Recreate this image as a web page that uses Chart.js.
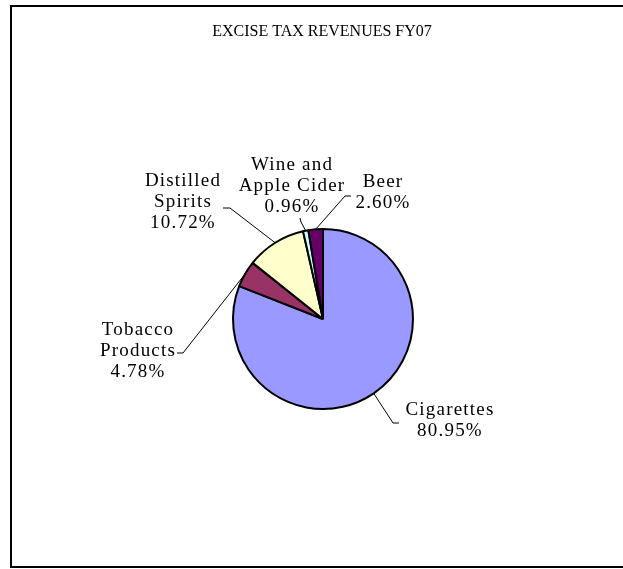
<!DOCTYPE html>
<html>
<head>
<meta charset="utf-8">
<script src="https://cdn.jsdelivr.net/npm/chart.js@4"></script>
<style>
html,body{margin:0;padding:0;background:#fff;}
#wrap{width:623px;height:569px;position:relative;}
</style>
</head>
<body>
<div id="wrap"><canvas id="c" width="623" height="569"></canvas></div>
<script>
// ---- data ----
const chartTitle = "EXCISE TAX REVENUES FY07";
const categories = ["Cigarettes", "Tobacco Products", "Distilled Spirits", "Wine and Apple Cider", "Beer"];
const labelLines = [["Cigarettes"], ["Tobacco", "Products"], ["Distilled", "Spirits"], ["Wine and", "Apple Cider"], ["Beer"]];
const values = [80.95, 4.78, 10.72, 0.96, 2.60];

// ---- style ----
const colors = ["#9999FF", "#993366", "#FFFFCC", "#CCFFFF", "#660066"];
// label block (first line centre) and leader points, relative to pie centre
const labelStyle = [
  {lx: 127, ly: 91, leader: [[70, 104], [76, 104]]},
  {lx: -185, ly: 11, leader: [[-140, 34], [-146, 34]]},
  {lx: -140, ly: -138, leader: [[-93, -111], [-100, -111]]},
  {lx: -31, ly: -154, leader: [[-22, -97], [-23, -101]]},
  {lx: 60, ly: -137, leader: [[22, -123], [28, -123]]}
];
const FONT = "'Liberation Serif', 'Times New Roman', serif";

const overlay = {
  id: 'overlay',
  afterDatasetsDraw(chart) {
    const ctx = chart.ctx;
    const meta = chart.getDatasetMeta(0);
    ctx.save();
    // frame
    ctx.strokeStyle = '#000';
    ctx.lineWidth = 2;
    ctx.strokeRect(11, 6, 640, 561);
    // title
    ctx.fillStyle = '#000';
    ctx.font = "16px " + FONT;
    ctx.textAlign = 'center';
    ctx.textBaseline = 'middle';
    ctx.fillText(chartTitle, 322, 32);
    ctx.font = "19px " + FONT;
    ctx.letterSpacing = "1.2px";
    meta.data.forEach((arc, i) => {
      const p = arc.getProps(['x', 'y', 'startAngle', 'endAngle', 'outerRadius'], true);
      const mid = (p.startAngle + p.endAngle) / 2;
      const ex = p.x + p.outerRadius * Math.cos(mid);
      const ey = p.y + p.outerRadius * Math.sin(mid);
      const st = labelStyle[i];
      ctx.beginPath();
      ctx.strokeStyle = '#000';
      ctx.lineWidth = 1;
      ctx.moveTo(ex, ey);
      st.leader.forEach(pt => ctx.lineTo(p.x + pt[0], p.y + pt[1]));
      ctx.stroke();
      const lines = labelLines[i].concat([values[i].toFixed(2) + "%"]);
      lines.forEach((t, k) => {
        ctx.fillText(t, p.x + st.lx, p.y + st.ly + k * 21);
      });
    });
    ctx.restore();
  }
};

new Chart(document.getElementById('c'), {
  type: 'pie',
  data: {
    labels: categories,
    datasets: [{
      data: values,
      backgroundColor: colors,
      borderColor: '#000',
      borderWidth: 2,
      radius: 90
    }]
  },
  options: {
    responsive: false,
    animation: false,
    layout: {padding: {left: 23, right: 0, top: 69, bottom: 0}},
    plugins: {legend: {display: false}, tooltip: {enabled: false}, title: {display: false}}
  },
  plugins: [overlay]
});
</script>
</body>
</html>
